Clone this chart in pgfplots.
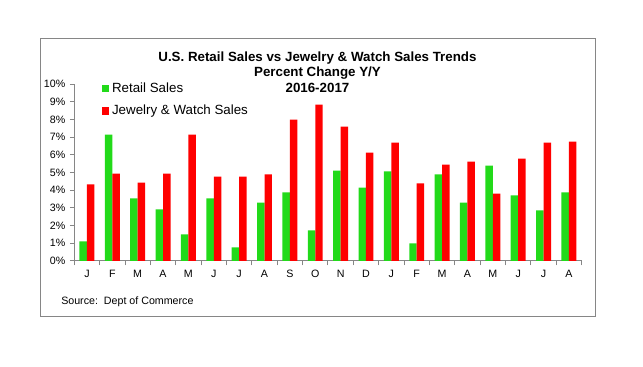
\documentclass[border=0pt]{standalone}
\usepackage{fontspec}
\setmainfont{Liberation Sans}
\usepackage{pgfplots}
\usepackage{pgfplotstable}
\pgfplotsset{compat=1.18}
\definecolor{rgreen}{RGB}{34,218,26}
\definecolor{jred}{RGB}{255,0,0}
\definecolor{axgray}{RGB}{134,134,134}

\pgfplotstableread{
idx retail jewel
0  1.11 4.33
1  7.16 4.95
2  3.54 4.44
3  2.92 4.95
4  1.51 7.16
5  3.54 4.78
6  0.77 4.78
7  3.31 4.90
8  3.88 8.00
9  1.73 8.85
10 5.12 7.61
11 4.16 6.14
12 5.07 6.70
13 1.00 4.39
14 4.90 5.46
15 3.31 5.63
16 5.40 3.82
17 3.71 5.80
18 2.86 6.70
19 3.88 6.76
}\data

\begin{document}
\begin{tikzpicture}[x=1pt,y=1pt]
\path[use as bounding box] (0,0) rectangle (482.25,275.25);
\draw[axgray, line width=0.75pt] (30.5,37.5) rectangle (446.25,246.5);
\node[anchor=base, font=\bfseries\fontsize{10}{12}\selectfont] at (238.1,229) {U.S. Retail Sales vs Jewelry \& Watch Sales Trends};
\node[anchor=base, font=\bfseries\fontsize{10}{12}\selectfont] at (238.1,217.7) {Percent Change Y/Y};
\node[anchor=base, font=\bfseries\fontsize{10}{12}\selectfont] at (238.1,205.7) {2016-2017};
\node[anchor=base west, inner sep=0pt, font=\fontsize{8}{9.6}\selectfont] at (45.75,46.7) {Source:\ \ Dept of Commerce};
\begin{axis}[
  at={(55.7pt,79.5pt)}, anchor=south west,
  scale only axis, width=380.5pt, height=132.5pt,
  xmin=-0.5, xmax=19.5, ymin=0, ymax=10,
  axis x line*=bottom, axis y line*=left,
  axis line style={axgray, line width=0.75pt, -},
  tick style={axgray, line width=0.75pt},
  tick align=outside,
  major tick length=3.2pt,
  xtick={-0.5,0.5,...,19.5}, xticklabels={},
  extra x ticks={0,...,19},
  extra x tick labels={J,F,M,A,M,J,J,A,S,O,N,D,J,F,M,A,M,J,J,A},
  extra x tick style={major tick length=0pt},
  xticklabel style={anchor=base, yshift=-12.2pt, font=\fontsize{8}{9.6}\selectfont},
  ytick={0,...,10},
  yticklabel={\pgfmathprintnumber{\tick}\%},
  yticklabel style={font=\fontsize{8}{9.6}\selectfont},
  /pgf/number format/assume math mode=true,
  legend style={draw=none, fill=none, at={(0.054,1.025)}, anchor=north west,
    font=\fontsize{10}{12}\selectfont, inner sep=0pt, row sep=4pt,
    cells={anchor=west}},
  legend image code/.code={\fill[#1] (0pt,-2.8pt) rectangle (5.6pt,2.8pt);},
]
\addplot[ybar, bar width=5.6pt, bar shift=-2.8pt, fill=rgreen, draw=none] table[x=idx,y=retail]{\data};
\addlegendentry{Retail Sales}
\addplot[ybar, bar width=5.6pt, bar shift=2.8pt, fill=jred, draw=none] table[x=idx,y=jewel]{\data};
\addlegendentry{Jewelry \& Watch Sales}
\end{axis}
\end{tikzpicture}
\end{document}
